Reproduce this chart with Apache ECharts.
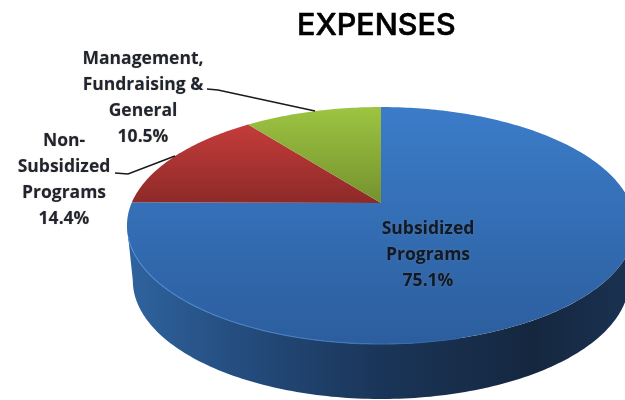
<!DOCTYPE html>
<html>
<head>
<meta charset="utf-8">
<style>html,body{margin:0;padding:0;background:#fff}#c{width:625px;height:400px}</style>
<script src="https://cdn.jsdelivr.net/npm/echarts@6/dist/echarts.min.js"></script>
</head>
<body>
<div id="c"></div>
<script>
// Data
const titleText = 'EXPENSES';
const categories = ['Subsidized\nPrograms', 'Non-\nSubsidized\nPrograms', 'Management,\nFundraising &\nGeneral'];
const values = [75.1, 14.4, 10.5];

// Layout and style
const apex = {x: 381, y: 203};
const persp = {a: 249.4, b: 114.2, k: 0.19};
const depth = 55, bottomScale = 0.977;
const labelPos = [{x: 428, y: 229}, {x: 64, y: 141}, {x: 143, y: 59}];
const leaders = [null,
  [[115, 173], [128, 174], [175, 156]],
  [[207, 89], [218, 90], [315, 111]]];
const fills = [['#3b7cc9', '#2c5e9e'], ['#c43c3a', '#8d2a28'], ['#9dc441', '#75922e']];
const LG = echarts.graphic.LinearGradient;
const total = values.reduce((s, v) => s + v, 0);

function project(deg, dy, scale) {
  const t = deg * Math.PI / 180, s = Math.sin(t), c = Math.cos(t), d = 1 + persp.k * c;
  return [apex.x + scale * persp.a * s / d, apex.y - persp.b * c / d + dy];
}
function arc(from, to, dy, scale) {
  const n = Math.max(2, Math.ceil(Math.abs(to - from))), pts = [];
  for (let i = 0; i <= n; i++) pts.push(project(from + (to - from) * i / n, dy, scale));
  return pts;
}

function renderItem(params, api) {
  const idx = api.value(1);
  let start = 0;
  for (let i = 0; i < idx; i++) start += values[i] / total * 360;
  const end = start + api.value(0) / total * 360;
  const children = [];

  if (idx === 0) {
    // visible rim of the disc: between the two side extremes of the ellipse
    const e = Math.acos(-persp.k) * 180 / Math.PI;
    const topRim = arc(e, 360 - e, 0, 1);
    const botRim = arc(360 - e, e, depth, bottomScale);
    children.push({
      type: 'polygon',
      shape: {points: topRim.concat(botRim)},
      style: {fill: new LG(0, 0, 1, 0, [
        {offset: 0, color: '#2f639f'},
        {offset: 0.25, color: '#234a7a'},
        {offset: 0.5, color: '#1a3558'},
        {offset: 0.8, color: '#15273f'},
        {offset: 1, color: '#1a3252'}
      ])}
    });
  }
  const pts = [[apex.x, apex.y]].concat(arc(start, end, 0, 1));
  children.push({
    type: 'polygon',
    shape: {points: pts},
    style: {fill: new LG(0, 0, 0, 1, [
      {offset: 0, color: fills[idx][0]},
      {offset: 1, color: fills[idx][1]}
    ])}
  });
  if (idx === 0) {
    const e = Math.acos(-persp.k) * 180 / Math.PI;
    children.push({
      type: 'polyline',
      shape: {points: arc(360 - e - 6, 165, 0, 1)},
      style: {fill: null, lineWidth: 1.1, stroke: new LG(0, 0, 1, 0, [
        {offset: 0, color: '#4f8bd2'},
        {offset: 0.6, color: '#4279bd'},
        {offset: 1, color: '#2e60a0'}
      ])}
    });
  }
  if (leaders[idx]) {
    children.push({
      type: 'polyline',
      shape: {points: leaders[idx]},
      style: {fill: null, stroke: '#1a1a1a', lineWidth: 1.6}
    });
  }
  const lines = (categories[idx] + '\n' + api.value(0).toFixed(1) + '%');
  children.push({
    type: 'text',
    style: {
      x: labelPos[idx].x, y: labelPos[idx].y - 13,
      text: lines,
      align: 'center', verticalAlign: 'top',
      font: 'bold 17.5px "Open Sans", Lato, sans-serif',
      lineHeight: 26,
      fill: idx === 0 ? '#0c1a2e' : '#1b2534',
      textShadowColor: 'rgba(190,120,50,0.45)',
      textShadowBlur: 1.5
    }
  });
  return {type: 'group', children};
}

const chart = echarts.init(document.getElementById('c'), null, {renderer: 'canvas'});
chart.setOption({
  animation: false,
  backgroundColor: '#ffffff',
  title: {
    text: titleText,
    left: 297, top: 10, padding: 0,
    textStyle: {fontFamily: 'Inter, Lato, sans-serif', fontWeight: 500, fontSize: 30.5, color: '#000', textBorderColor: '#000', textBorderWidth: 0.6}
  },
  series: [{
    type: 'custom',
    coordinateSystem: 'none',
    renderItem,
    dimensions: ['value', 'index'],
    data: values.map((v, i) => [v, i]),
    silent: true
  }]
});
</script>
</body>
</html>
